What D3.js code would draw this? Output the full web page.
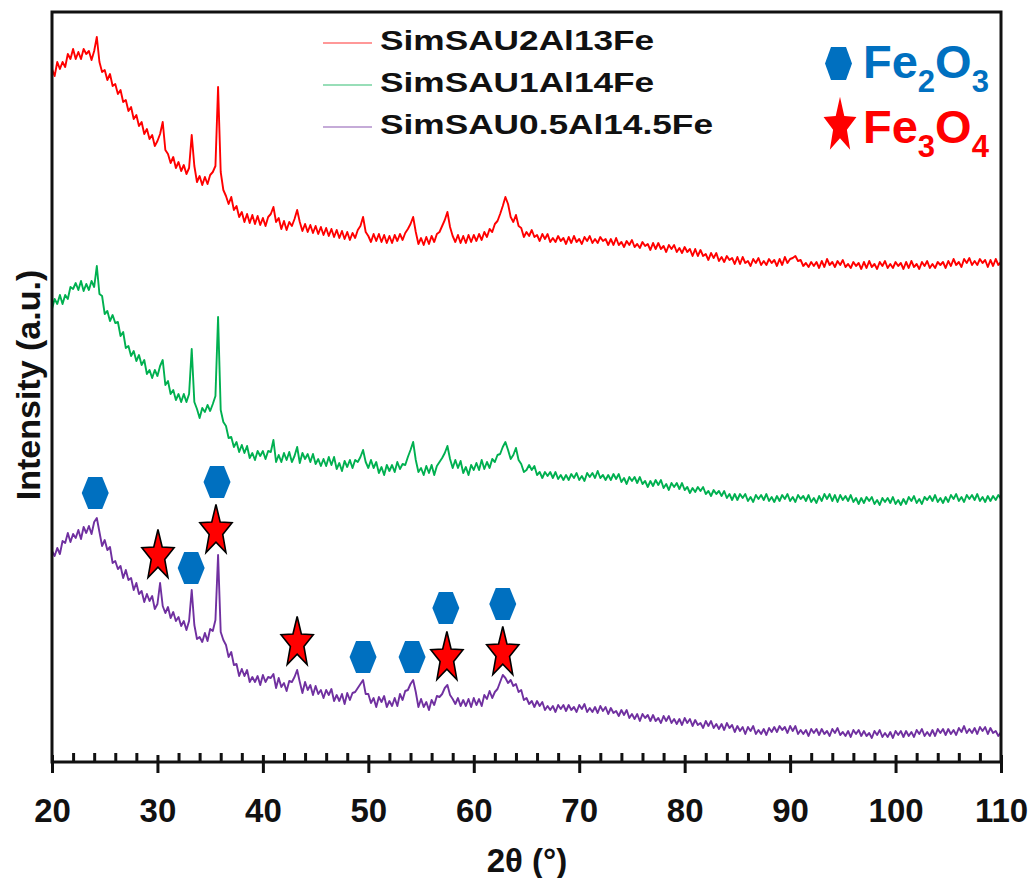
<!DOCTYPE html>
<html><head><meta charset="utf-8">
<script src="https://cdn.jsdelivr.net/npm/d3@7/dist/d3.min.js"></script>
<style>
html,body{margin:0;padding:0;background:#fff;}
svg{display:block;}
</style></head><body>
<svg id="chart" width="1033" height="878"></svg>
<script>
// ---------------- DATA ----------------
const seriesNames = ["SimSAU2Al13Fe", "SimSAU1Al14Fe", "SimSAU0.5Al14.5Fe"];
const seriesColors = ["#ff0000", "#00b050", "#7030a0"];
// 2θ sampling grid: 20° to 110° every 0.25°
const twoThetaStart = 20, twoThetaStep = 0.25;

const redIntensity = [
693,686,700,693, 700,695,708,703, 713,703,710,703, 713,708,711,702, 711,725,700,690,
692,682,688,676, 678,668,672,660, 662,651,655,643, 647,636,640,628, 633,623,627,616,
621,628,640,612, 608,599,605,594, 600,591,597,588, 594,627,596,580, 586,577,585,578,
587,590,596,675, 590,572,566,558, 565,552,556,545, 550,540,548,539, 547,538,546,537,
544,536,545,548, 555,540,544,533, 541,532,540,536, 543,552,540,531, 538,530,537,529,
536,528,535,527, 534,526,533,525, 532,524,531,523, 530,522,529,524, 532,536,545,530,
526,520,528,521, 528,520,527,519, 526,519,527,521, 528,522,529,533, 538,545,530,518,
524,517,525,518, 526,520,528,530, 536,542,550,535, 526,520,527,519, 526,519,527,520,
527,521,528,522, 530,525,533,530, 538,541,548,556, 565,558,545,540, 547,536,534,525,
530,526,532,525, 527,521,528,523, 528,520,524,520, 526,521,524,518, 525,519,526,520,
523,518,525,521, 526,519,523,519, 525,521,523,517, 523,517,524,517, 520,515,521,517,
522,515,518,514, 520,516,518,512, 519,513,519,513, 516,510,517,513, 517,510,514,509,
515,510,513,506, 513,506,512,506, 508,502,509,504, 509,501,505,500, 506,502,504,498,
505,498,505,499, 501,496,503,499, 504,497,501,497, 503,499,502,496, 503,497,505,499,
503,504,506,501, 502,496,499,495, 500,496,500,494, 501,495,503,497, 500,495,501,497,
502,495,498,494, 500,496,499,493, 500,494,501,495, 498,493,500,496, 501,494,498,494,
500,496,499,493, 500,494,501,495, 498,493,500,496, 501,494,498,494, 500,497,500,494,
501,496,503,497, 500,495,503,499, 504,497,501,497, 503,499,502,495, 502,496,503,497,
500
];

const greenIntensity = [
453,463,458,467, 458,467,463,475, 473,479,472,481, 471,478,472,481, 475,496,468,466,
448,451,441,447, 439,440,426,430, 414,416,406,411, 401,407,397,402, 388,392,384,392,
386,396,402,377, 381,368,372,362, 368,360,368,360, 368,413,360,353, 344,354,350,357,
351,358,366,445, 352,340,336,324, 325,315,320,310, 317,309,316,304, 309,302,311,306,
311,303,311,310, 322,300,307,300, 309,302,310,300, 306,315,299,309, 303,308,300,308,
298,303,296,303, 296,305,297,305, 293,299,291,301, 295,302,294,302, 300,305,312,300,
294,302,294,300, 289,295,287,297, 291,297,290,300, 293,298,297,305, 312,320,302,290,
294,287,296,289, 297,287,296,300, 304,309,316,303, 294,302,294,301, 289,295,287,297,
292,299,292,302, 293,300,294,303, 300,307,308,315, 320,312,303,307, 314,302,298,290,
292,297,292,296, 287,290,284,290, 286,290,284,290, 283,287,282,287, 282,288,284,289,
282,286,281,289, 285,289,284,291, 284,287,282,287, 282,288,283,288, 280,284,278,285,
281,285,279,285, 278,281,275,281, 276,282,277,282, 274,278,272,279, 275,279,273,279,
272,275,269,274, 270,275,271,275, 268,271,266,272, 268,271,266,271, 264,268,262,268,
262,268,264,268, 261,265,260,267, 263,267,262,268, 261,265,260,266, 261,267,263,268,
261,265,260,267, 263,266,261,267, 260,264,259,266, 261,268,263,268, 261,267,260,267,
262,266,261,267, 260,264,258,264, 259,265,261,265, 258,262,257,264, 260,264,259,265,
258,262,257,263, 258,265,261,266, 259,263,258,265, 262,266,261,267, 260,264,259,265,
260,267,263,268, 261,265,260,267, 263,267,262,268, 261,265,260,266, 261,266,262,267,
263
];

const purpleIntensity = [
211,206,214,208, 221,219,229,220, 228,224,232,223, 235,229,236,228, 240,244,230,216,
222,212,215,199, 201,193,196,184, 192,182,184,172, 179,168,171,160, 168,161,166,153,
158,179,156,149, 155,144,150,141, 145,136,141,132, 141,172,137,123, 125,120,129,121,
133,131,142,207, 130,122,117,105, 110,97,98,86, 93,86,92,80, 85,80,86,77,
87,80,85,84, 88,74,84,75, 79,71,81,80, 85,92,80,69, 80,72,77,67,
76,68,72,64, 72,67,73,61, 67,61,68,58, 69,62,69,70, 74,78,82,68,
68,59,64,55, 65,60,66,55, 61,56,64,56, 68,62,71,72, 78,82,70,55,
63,55,60,52, 62,57,66,65, 68,74,77,67, 63,58,64,56, 62,56,63,55,
64,57,63,56, 67,63,71,64, 70,73,80,87, 84,79,82,76, 78,70,72,62,
64,58,61,55, 61,56,60,52, 56,52,56,50, 57,53,57,51, 57,52,55,50,
57,53,58,50, 54,50,55,49, 56,51,55,48, 54,49,51,46, 52,47,52,44,
48,43,48,41, 48,44,47,41, 47,41,44,39, 46,41,46,39, 43,38,43,37,
44,39,43,36, 42,37,39,34, 41,36,41,34, 38,33,38,32, 39,34,37,30,
36,31,35,28, 35,31,36,28, 32,28,33,27, 34,30,35,30, 36,32,35,29,
36,31,36,28, 32,28,32,26, 33,29,33,27, 33,28,31,26, 33,29,34,27,
30,26,31,25, 32,28,32,26, 31,26,29,24, 31,27,32,25, 29,25,30,24,
31,27,31,25, 31,26,30,25, 32,28,33,26, 30,26,32,26, 33,29,33,27,
33,28,32,27, 34,30,36,29, 33,29,34,28, 35,31,35,28, 34,29,31,26,
30
];

const xMajorTicks = [20, 30, 40, 50, 60, 70, 80, 90, 100, 110];
const xMinorTicks = [22,24,26,28, 32,34,36,38, 42,44,46,48, 52,54,56,58, 62,64,66,68,
                     72,74,76,78, 82,84,86,88, 92,94,96,98, 102,104,106,108];

// Phase markers (2θ position, intensity level of the marker)
const fe2o3Theta = [24.1, 35.65, 33.2, 49.5, 54.15, 57.35, 62.75];
const fe2o3Level = [269, 280, 194, 105, 105, 154, 158];
const fe3o4Theta = [30.05, 35.55, 43.25, 57.45, 62.75];
const fe3o4Level = [206, 231, 119, 104, 109];

const xTitle = "2θ (°)";
const yTitle = "Intensity (a.u.)";

// ---------------- CHART ----------------
const svg = d3.select("#chart");
const x = d3.scaleLinear().domain([20, 110]).range([52, 1001]);
const y = d3.scaleLinear().domain([0, 750]).range([762, 12]);
const ink = "#111";
const tickFont = "'Liberation Sans', Arial, Helvetica, sans-serif";

const allSeries = [redIntensity, greenIntensity, purpleIntensity];
const line = d3.line()
  .x((d, i) => x(twoThetaStart + i * twoThetaStep))
  .y(d => y(d));

svg.append("g").selectAll("path").data(allSeries).join("path")
  .attr("d", d => line(d))
  .attr("fill", "none")
  .attr("stroke", (d, i) => seriesColors[i])
  .attr("stroke-width", 1.9)
  .attr("stroke-linejoin", "round");

// axis: outward major ticks with labels
const gx = svg.append("g").attr("transform", `translate(0,${y(0)})`)
  .call(d3.axisBottom(x).tickValues(xMajorTicks).tickSize(11).tickSizeOuter(0)
        .tickPadding(26).tickFormat(d3.format("d")));
gx.select(".domain").remove();
gx.selectAll(".tick line").attr("stroke", ink).attr("stroke-width", 3);
gx.selectAll(".tick text").attr("font-family", tickFont).attr("font-weight", "bold")
  .attr("font-size", 33).attr("fill", ink);

// inward part of major ticks
const gxIn = svg.append("g").attr("transform", `translate(0,${y(0)})`)
  .call(d3.axisBottom(x).tickValues(xMajorTicks).tickSize(-7).tickSizeOuter(0).tickFormat(""));
gxIn.select(".domain").remove();
gxIn.selectAll(".tick line").attr("stroke", ink).attr("stroke-width", 3);

// minor ticks (inward)
const gxMinor = svg.append("g").attr("transform", `translate(0,${y(0)})`)
  .call(d3.axisBottom(x).tickValues(xMinorTicks).tickSize(-9).tickSizeOuter(0).tickFormat(""));
gxMinor.select(".domain").remove();
gxMinor.selectAll(".tick line").attr("stroke", ink).attr("stroke-width", 3);

// frame
svg.append("rect")
  .attr("x", x(20)).attr("y", y(750))
  .attr("width", x(110) - x(20)).attr("height", y(0) - y(750))
  .attr("fill", "none").attr("stroke", ink).attr("stroke-width", 3);

// axis titles
svg.append("text").attr("x", 527).attr("y", 872).attr("text-anchor", "middle")
  .attr("font-family", tickFont).attr("font-weight", "bold").attr("font-size", 33)
  .attr("fill", ink).text(xTitle);
svg.append("text").attr("transform", "translate(40,385) rotate(-90)")
  .attr("text-anchor", "middle")
  .attr("font-family", tickFont).attr("font-weight", "bold").attr("font-size", 34)
  .attr("fill", ink).text(yTitle);

// marker shapes
function hexPath(w, h, f) {
  const a = w / 2, b = f / 2, c = h / 2;
  return `M${-a},0L${-b},${-c}L${b},${-c}L${a},0L${b},${c}L${-b},${c}Z`;
}
function starPath(R, ratio, sx) {
  const pts = [];
  for (let k = 0; k < 10; k++) {
    const ang = -Math.PI / 2 + k * Math.PI / 5;
    const r = k % 2 === 0 ? R : R * ratio;
    pts.push([r * Math.cos(ang) * sx, r * Math.sin(ang)]);
  }
  return "M" + pts.map(p => p[0].toFixed(2) + "," + p[1].toFixed(2)).join("L") + "Z";
}
const hexColor = "#0070c0";
const starColor = "#ff0000";

svg.append("g").selectAll("path").data(fe2o3Theta).join("path")
  .attr("transform", (d, i) => `translate(${x(d)},${y(fe2o3Level[i])})`)
  .attr("d", hexPath(27, 32, 14))
  .attr("fill", hexColor);

svg.append("g").selectAll("path").data(fe3o4Theta).join("path")
  .attr("transform", (d, i) => `translate(${x(d)},${y(fe3o4Level[i])})`)
  .attr("d", starPath(26.5, 0.42, 0.64))
  .attr("fill", starColor).attr("stroke", "#000").attr("stroke-width", 1.6)
  .attr("stroke-linejoin", "miter");

// series legend
const legendY = [43, 85, 127];
const lg = svg.append("g");
lg.selectAll("line").data(seriesNames).join("line")
  .attr("x1", 323).attr("x2", 372)
  .attr("y1", (d, i) => legendY[i]).attr("y2", (d, i) => legendY[i])
  .attr("stroke", (d, i) => seriesColors[i]).attr("stroke-width", 1.2).attr("opacity", 0.8);
const lt = lg.selectAll("text").data(seriesNames).join("text")
  .attr("x", 380).attr("y", (d, i) => legendY[i] + 7)
  .attr("font-family", tickFont).attr("font-weight", "bold")
  .attr("font-size", 27).attr("fill", ink).text(d => d);
const nat = lt.nodes().map(n => n.getComputedTextLength());
const kScale = 333 / nat[2];
lt.attr("textLength", (d, i) => nat[i] * kScale).attr("lengthAdjust", "spacingAndGlyphs");

// phase legend
svg.append("path").attr("transform", "translate(838.5,63.5)")
  .attr("d", hexPath(27, 33, 15)).attr("fill", hexColor);
svg.append("path").attr("transform", "translate(840,126)")
  .attr("d", starPath(29.3, 0.42, 0.59)).attr("fill", starColor);

function formula(g, yBase, color, parts) {
  const t = g.append("text").attr("x", 863).attr("y", yBase)
    .attr("font-family", tickFont).attr("font-weight", "bold").attr("fill", color);
  let prevSub = false;
  parts.forEach(p => {
    const ts = t.append("tspan").text(p.t);
    if (p.sub) { ts.attr("font-size", 31).attr("dy", prevSub ? 0 : 14); prevSub = true; }
    else { ts.attr("font-size", 47).attr("dy", prevSub ? -14 : 0); prevSub = false; }
  });
}
const pg = svg.append("g");
formula(pg, 78, hexColor, [{t: "Fe"}, {t: "2", sub: true}, {t: "O"}, {t: "3", sub: true}]);
formula(pg, 143, starColor, [{t: "Fe"}, {t: "3", sub: true}, {t: "O"}, {t: "4", sub: true}]);
</script>
</body></html>
